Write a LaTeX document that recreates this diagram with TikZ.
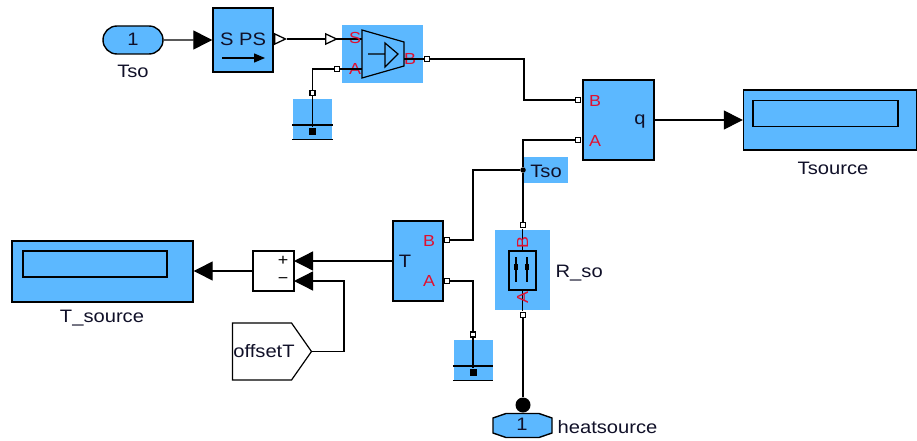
\documentclass[tikz,border=0pt]{standalone}
\usepackage{fontspec}
\setmainfont[FakeStretch=1.12]{Liberation Sans}
\usetikzlibrary{arrows.meta, shapes.geometric, shapes.misc, shapes.symbols, calc}
\definecolor{blockblue}{HTML}{5CB8FF}
\definecolor{portred}{HTML}{E01030}
\definecolor{inkdark}{HTML}{101028}
\tikzset{
  wire/.style={line width=1.3pt},
  block/.style={draw, line width=1.4pt, fill=blockblue, inner sep=0pt},
  plate/.style={fill=blockblue, inner sep=0pt},
  port/.style={draw, line width=1.3pt, fill=white, minimum size=5pt, inner sep=0pt},
  portlabel/.style={text=portred, font=\fontsize{16}{16}\selectfont, inner sep=0pt},
  blocktext/.style={text=inkdark, font=\fontsize{18}{18}\selectfont, inner sep=0pt},
  tagtext/.style={text=inkdark, font=\fontsize{18}{18}\selectfont, inner sep=0pt}
}
\begin{document}
\begin{tikzpicture}[x=1pt, y=-1pt, wire, >={Triangle[length=19pt,width=19pt]}]
      \useasboundingbox (0,0) rectangle (917,441);

      % top row
      \node[block, rounded rectangle, minimum width=60pt, minimum height=28pt] (inTso) at (133,40) {};
      \node[blocktext] (inTsoNum) at (133,39) {1};
      \node[tagtext] (inTsoName) at (133,71) {Tso};

      \node[block, minimum width=60pt, minimum height=64pt] (sps) at (243,40) {};
      \node[blocktext] (spsText) at (243,39) {S PS};
      \coordinate (spsArrowL) at (222,58);
      \coordinate (spsArrowR) at (265,58);
      \draw[-{Triangle[length=11pt,width=9pt]}] (spsArrowL) -- (spsArrowR);
      \draw[->] (inTso) -- (inTso-|sps.west);

      \node[plate, minimum width=81pt, minimum height=58pt] (sensor) at (382.5,54) {};
      \draw[line width=1.2pt] (362,30) coordinate (sensorNW) -- (404,42) -- (404,66) -- (362,78) -- cycle;
      \coordinate (sensorMid) at (368,54);
      \draw[line width=1.2pt] (sensorMid) -- (385,54) (385,43) -- (398,54) -- (385,67) -- cycle;
      \coordinate (spsOut) at (287,39);
      \coordinate (sensorIn) at (338,39);
      \coordinate (sensorS) at (362,39);
      \draw[-{Triangle[open,length=13pt,width=12pt,fill=white]}] (sps.east|-spsOut) -- (spsOut);
      \draw (spsOut) -- (sensorS);
      \draw[-{Triangle[open,length=13pt,width=12pt,fill=white]}] ($(sensorIn)+(-14,0)$) -- (sensorIn);
      \node[portlabel] (sensorSLabel) at (355,38) {S};
      \node[portlabel] (sensorALabel) at (355,69) {A};
      \node[portlabel] (sensorBLabel) at (410,59) {B};
      \node[port] (sensorPortA) at (337,69) {};
      \node[port] (sensorPortB) at (427,59) {};
      \draw (sensorPortA) -- (sensorPortA-|sensorNW);
      \draw (404,59) -- (sensorPortB);

      % grounds
      \foreach \name/\xpos/\ypos in {gndA/312.5/119, gndB/473/360} {
        \node[plate, minimum width=39pt, minimum height=40pt] (\name) at (\xpos,\ypos) {};
        \node[port] (\name port) at ($(\name.north)+(0,-5)$) {};
        \node[fill=black, minimum size=7pt, inner sep=0pt] (\name mark) at ($(\name.center)+(0,12)$) {};
        \draw (\name port) -- (\name mark);
        \draw ($(\name.west)+(0,6)$) -- ($(\name.east)+(0,6)$);
        \draw ($(\name.south west)$) -- ($(\name.south east)$);
      }
      \draw (sensorPortA) -| (gndAport);

      % q block and display
      \node[block, minimum width=71pt, minimum height=80pt] (qblock) at (618.5,120) {};
      \node[portlabel] (qBLabel) at (595,101) {B};
      \node[portlabel] (qALabel) at (595,141) {A};
      \node[blocktext] (qText) at (640,122) {q};
      \node[port] (qPortB) at (578,100) {};
      \node[port] (qPortA) at (578,140) {};

      \node[block, minimum width=173pt, minimum height=60pt] (dispTsource) at (830,120) {};
      \node[draw, line width=1.4pt, minimum width=145pt, minimum height=26pt, inner sep=0pt] (dispTsourceIn) at (825.5,113.5) {};
      \node[tagtext] (dispTsourceName) at (833,168) {Tsource};
      \draw[->] (qblock.east|-dispTsource) -- (dispTsource.west);

      \coordinate (kneeB) at (524,80);
      \draw (sensorPortB) -| (kneeB) |- (qPortB);

      % Tso tag and resistance
      \node[plate, minimum width=44pt, minimum height=26pt] (tagTso) at (546,170) {};
      \node[tagtext] (tagTsoText) at (546,171) {Tso};
      \node[circle, fill=black, minimum size=5.5pt, inner sep=0pt] (junction) at (523,170) {};
      \node[port] (rsoPortB) at (523,225) {};
      \node[port] (rsoPortA) at (523,315) {};
      \draw (qPortA) -| (junction) -- (rsoPortB);

      \node[plate, minimum width=55pt, minimum height=80pt] (rso) at (522.5,270) {};
      \node[draw, line width=1.4pt, minimum width=27pt, minimum height=39pt, inner sep=0pt] (rsoIcon) at (522.5,270.5) {};
      \draw (rso.north-|rsoIcon) -- (rsoIcon.north);
      \draw (rsoIcon.south) -- (rso.south-|rsoIcon);
      \draw (516,257) -- (516,282) (527,257) -- (527,282);
      \draw[line width=3.5pt] (516,264) -- (516,270) (527,264) -- (527,270);
      \node[portlabel, rotate=90] (rsoBLabel) at (522.5,243) {B};
      \node[portlabel, rotate=90] (rsoALabel) at (522.5,298) {A};
      \node[tagtext, anchor=west] (rsoName) at (555,273) {R\_so};

      % T block
      \node[block, minimum width=50pt, minimum height=80pt] (tblock) at (418,261) {};
      \node[blocktext] (tText) at (405,261) {T};
      \node[portlabel] (tBLabel) at (429,241) {B};
      \node[portlabel] (tALabel) at (429,281) {A};
      \node[port] (tPortB) at (447,240) {};
      \node[port] (tPortA) at (447,281) {};
      \draw (tPortB) -| (473,170) -- (junction);
      \draw (tPortA) -| (gndBport);

      % sum and display
      \node[draw, line width=1.2pt, fill=white, minimum width=41pt, minimum height=40pt, inner sep=0pt] (sum) at (273.5,271) {};
      \node[font=\fontsize{16}{16}\selectfont, inner sep=0pt] (sumPlus) at (283,261) {+};
      \node[font=\fontsize{16}{16}\selectfont, inner sep=0pt] (sumMinus) at (283,281) {−};
      \coordinate (sumIn) at (294,261);
      \coordinate (sumInNeg) at (294,281);
      \draw[->] (tblock.west|-sumIn) -- (sumIn);

      \node[block, minimum width=181pt, minimum height=61pt] (dispTs) at (102.5,271.5) {};
      \node[draw, line width=1.4pt, minimum width=144pt, minimum height=26pt, inner sep=0pt] (dispTsIn) at (95,264) {};
      \node[tagtext] (dispTsName) at (102,318) {T\_source};
      \draw[->] (sum.west) -- (sum.west-|dispTs.east);

      % offset tag
      \node[draw, line width=1.2pt, signal, signal to=east, signal pointer angle=110, minimum width=79pt, minimum height=57pt, inner sep=0pt] (offsetT) at (262,351.5) {};
      \node[tagtext] (offsetTText) at (264,351) {offsetT};
      \draw[->] (offsetT.east) -| (344,281) -- (sumInNeg);

      % heat source
      \draw[block] (493,418) coordinate (outHeat) -- (506,413.5) -- (539,413.5) -- (552,418) -- (552,433) -- (539,437.5) -- (506,437.5) -- (493,433) -- cycle;
      \node[blocktext] (outHeatNum) at (522,424) {1};
      \node[tagtext, anchor=west] (outHeatName) at (557,427) {heatsource};
      \node[circle, fill=black, minimum size=15pt, inner sep=0pt] (heatDot) at (523,405) {};
      \draw (rsoPortA) -- (heatDot);
\end{tikzpicture}
\end{document}
